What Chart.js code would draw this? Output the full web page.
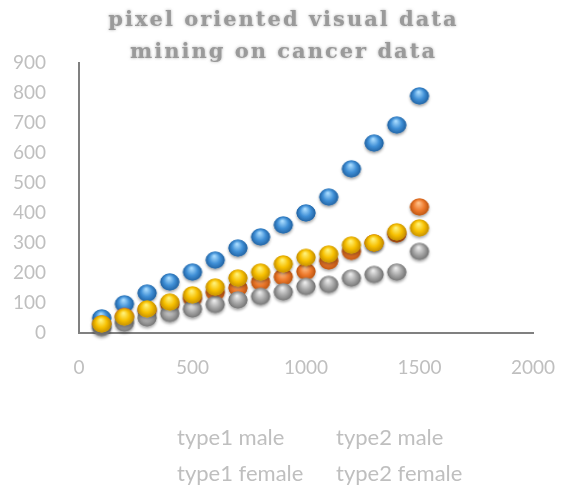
<!DOCTYPE html>
<html>
<head>
<meta charset="utf-8">
<script src="https://cdn.jsdelivr.net/npm/chart.js@4/dist/chart.umd.min.js"></script>
<style>
  html, body { margin: 0; padding: 0; background: #ffffff; }
  #wrap { position: relative; width: 567px; height: 493px; }
  #legend { position: absolute; left: 0; top: 0; width: 567px; height: 493px; pointer-events: none;
            font-family: Lato, "Open Sans", sans-serif; font-size: 22px; color: #bfbfbf; }
  #legend .item { position: absolute; line-height: 26px; white-space: nowrap; }
</style>
</head>
<body>
<div id="wrap">
  <canvas id="c" width="567" height="493"></canvas>
  <div id="legend"></div>
</div>
<script>
// Patient counts by sample size, four cancer groups
const sampleSizes   = [100, 200, 300, 400, 500, 600, 700, 800, 900, 1000, 1100, 1200, 1300, 1400, 1500];
const type1Male     = [50, 97, 133, 170, 203, 243, 283, 320, 360, 400, 453, 547, 633, 693, 790];
const type2Male     = [30, 55, 75, 95, 115, 135, 150, 170, 187, 205, 240, 272, 300, 330, 420];
const type1Female   = [18, 33, 50, 65, 80, 95, 110, 122, 137, 155, 162, 183, 195, 203, 272];
const type2Female   = [30, 53, 80, 103, 127, 153, 183, 203, 230, 252, 263, 293, 300, 337, 350];

const seriesNames   = ["type1 male", "type2 male", "type1 female", "type2 female"];
const titleLines    = ["pixel oriented visual data", "mining on cancer data"];
const xTickMax = 2000, xTickStep = 500;
const yTickMax = 900,  yTickStep = 100;

// Glossy ball marker drawn once per colour
function ball(base, light, dark) {
  const s = 26, c = document.createElement('canvas');
  c.width = s; c.height = s;
  const g = c.getContext('2d');
  const cx = s / 2, cy = s / 2, rx = 9.5, ry = 8.5;
  g.save();
  g.shadowColor = 'rgba(0,0,0,0.35)';
  g.shadowBlur = 3;
  g.shadowOffsetY = 2;
  g.beginPath(); g.ellipse(cx, cy, rx, ry, 0, 0, Math.PI * 2);
  g.fillStyle = base; g.fill();
  g.restore();
  const grad = g.createRadialGradient(cx - 1, cy - 4, 0.5, cx, cy, rx);
  grad.addColorStop(0, light);
  grad.addColorStop(0.55, base);
  grad.addColorStop(1, dark);
  g.beginPath(); g.ellipse(cx, cy, rx, ry, 0, 0, Math.PI * 2);
  g.fillStyle = grad; g.fill();
  return c;
}

const balls = [
  ball('#3f8fd6', '#a9dcff', '#1f5f9e'),
  ball('#ee7a2c', '#ffc08a', '#b8520f'),
  ball('#a5a5a5', '#ececec', '#707070'),
  ball('#f7c000', '#fff27a', '#c08a00')
];

function points(values) {
  return sampleSizes.map((x, i) => ({ x: x, y: values[i] }));
}

const seriesValues = [type1Male, type2Male, type1Female, type2Female];
const datasets = seriesValues.map((vals, i) => ({
  label: seriesNames[i],
  data: points(vals),
  pointStyle: balls[i],
  pointRadius: 10,
  pointHoverRadius: 10,
  clip: false,
  order: seriesValues.length - i
}));

// Two-line soft title above the plot
const titlePlugin = {
  id: 'softTitle',
  afterDraw(chart) {
    const ctx = chart.ctx;
    ctx.save();
    ctx.font = 'bold 21px "DejaVu Serif", "Liberation Serif", serif';
    ctx.letterSpacing = '2px';
    ctx.fillStyle = '#9a9a9a';
    ctx.shadowColor = 'rgba(120,120,120,0.6)';
    ctx.shadowBlur = 3;
    ctx.textAlign = 'center';
    ctx.textBaseline = 'middle';
    const cx = chart.width / 2;
    ctx.fillText(titleLines[0], cx, 21);
    ctx.fillText(titleLines[1], cx, 53);
    ctx.restore();
  }
};

// Legend as plain text in a two-column grid
const legendPlugin = {
  id: 'textLegend',
  afterInit(chart) {
    const box = document.getElementById('legend');
    const cols = [177, 336], rows = [437, 473];
    chart.data.datasets.forEach((ds, i) => {
      const el = document.createElement('div');
      el.className = 'item';
      el.textContent = ds.label;
      el.style.left = cols[i % 2] + 'px';
      el.style.top = (rows[Math.floor(i / 2)] - 13) + 'px';
      box.appendChild(el);
    });
  }
};

const tickFont = { family: 'Lato, "Open Sans", sans-serif', size: 19 };
const tickColor = '#bfbfbf';
const axisColor = '#808080';
const plainNumber = (v) => String(v);

new Chart(document.getElementById('c'), {
  type: 'scatter',
  data: { datasets: datasets },
  options: {
    responsive: false,
    animation: false,
    events: [],
    layout: { padding: { top: 63, right: 34, left: 0, bottom: 0 } },
    plugins: {
      legend: { display: false },
      title: { display: false },
      tooltip: { enabled: false }
    },
    scales: {
      x: {
        type: 'linear',
        min: 0, max: xTickMax,
        afterFit(scale) {
          scale.height = 160;
          scale.paddingLeft = 0;
          scale.paddingRight = 0;
        },
        ticks: { stepSize: xTickStep, color: tickColor, font: tickFont, padding: 23, maxRotation: 0, callback: plainNumber },
        grid: { display: false, drawTicks: false },
        border: { display: true, color: axisColor, width: 2 }
      },
      y: {
        type: 'linear',
        min: 0, max: yTickMax,
        afterFit(scale) { scale.width = 79; },
        ticks: { stepSize: yTickStep, color: tickColor, font: tickFont, padding: 33, callback: plainNumber },
        grid: { display: false, drawTicks: false },
        border: { display: true, color: axisColor, width: 2 }
      }
    }
  },
  plugins: [titlePlugin, legendPlugin]
});
</script>
</body>
</html>
